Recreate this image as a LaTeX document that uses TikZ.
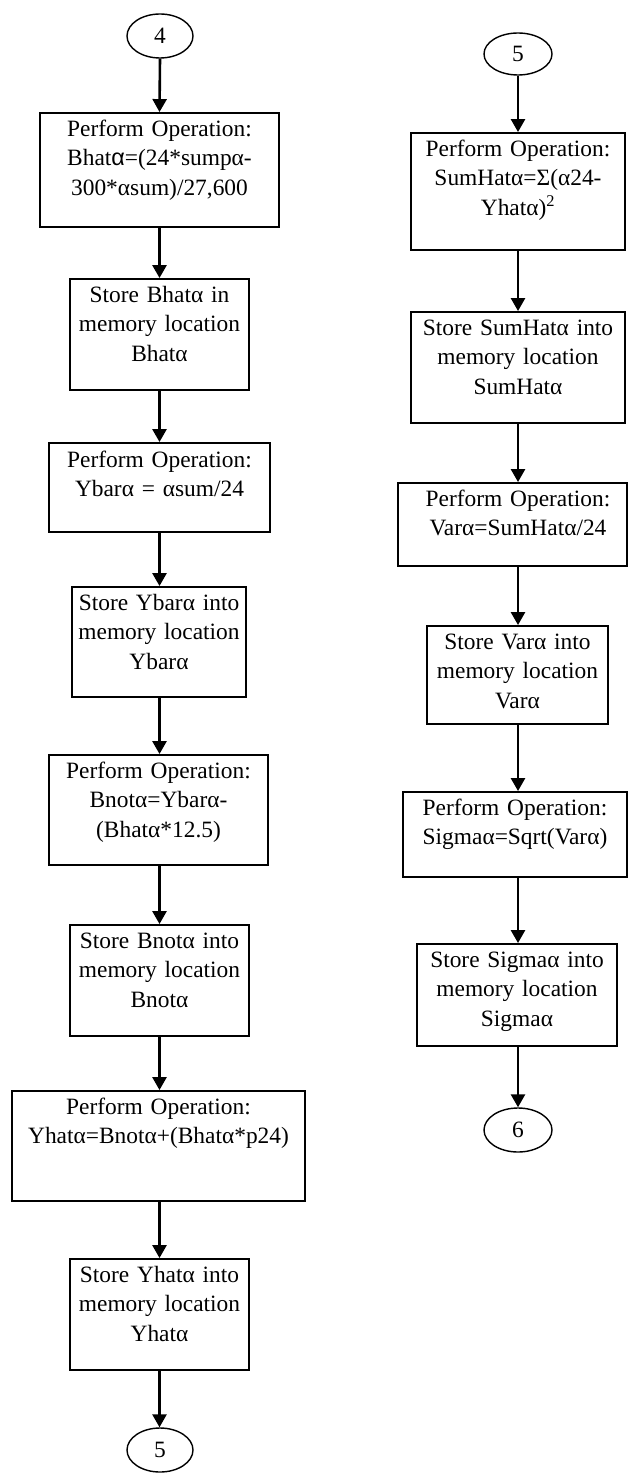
\documentclass[tikz,border=0pt]{standalone}
\usepackage{fontspec}
\setmainfont{Liberation Serif}
\newfontfamily\sansalpha{Liberation Sans}
\usetikzlibrary{arrows.meta,shapes.geometric}
\tikzset{
  boxshape/.style 2 args={draw, line width=1.9pt, minimum width=#1, minimum height=#2, inner sep=0pt},
  boxtext/.style={text width=#1, align=center, inner sep=0pt, anchor=base, font=\fontsize{23.4}{29.5}\selectfont},
  conn/.style={draw, ellipse, line width=1.4pt, minimum width=66pt, minimum height=44pt, inner sep=0pt, font=\fontsize{23.4}{29.5}\selectfont},
  flow/.style={line width=2.6pt, -{Triangle[length=13pt,width=14pt]}}
}
\begin{document}
\begin{tikzpicture}[x=1pt,y=-1pt]
\useasboundingbox[fill=white] (0,0) rectangle (629,1479);
% left column
\node[conn] (c4) at (160,36) {4};
\node[boxshape={239pt}{114pt}] (b1) at (159.5,170) {};
\node[boxtext=235pt] (t1) at ([yshift=-24pt]b1.north) {Perform Operation:\\ Bhat{\sansalpha α}=(24*sumpα-\\ 300*αsum)/27,600};
\node[boxshape={179pt}{111pt}] (b2) at (159.5,334.5) {};
\node[boxtext=175pt] (t2) at ([yshift=-24pt]b2.north) {Store Bhatα in\\ memory location\\ Bhatα};
\node[boxshape={221pt}{89pt}] (b3) at (159.5,487.5) {};
\node[boxtext=217pt] (t3) at ([yshift=-25pt]b3.north) {Perform Operation:\\ Ybarα = αsum/24};
\node[boxshape={174pt}{110pt}] (b4) at (159,642) {};
\node[boxtext=170pt] (t4) at ([yshift=-24pt]b4.north) {Store Ybarα into\\ memory location\\ Ybarα};
\node[boxshape={219pt}{110pt}] (b5) at (158.5,810) {};
\node[boxtext=215pt] (t5) at ([yshift=-24pt]b5.north) {Perform Operation:\\ Bnotα=Ybarα-\\ (Bhatα*12.5)};
\node[boxshape={179pt}{111pt}] (b6) at (159.5,980.5) {};
\node[boxtext=175pt] (t6) at ([yshift=-24pt]b6.north) {Store Bnotα into\\ memory location\\ Bnotα};
\node[boxshape={293pt}{110pt}] (b7) at (158.5,1146) {};
\node[boxtext=289pt] (t7) at ([yshift=-24pt]b7.north) {Perform Operation:\\ Yhatα=Bnotα+(Bhatα*p24)};
\node[boxshape={179pt}{111pt}] (b8) at (159.5,1314.5) {};
\node[boxtext=175pt] (t8) at ([yshift=-24pt]b8.north) {Store Yhatα into\\ memory location\\ Yhatα};
\node[conn] (c5a) at (160,1450) {5};
% right column
\node[conn, minimum width=68pt, minimum height=42pt] (c5b) at (518,54) {5};
\node[boxshape={214pt}{117pt}] (r1) at (518,191.5) {};
\node[boxtext=210pt] (u1) at ([yshift=-24pt]r1.north) {Perform Operation:\\ SumHatα=Σ(α24-\\ Yhatα)\textsuperscript{2}};
\node[boxshape={214pt}{111pt}] (r2) at (518,367.5) {};
\node[boxtext=210pt] (u2) at ([yshift=-24pt]r2.north) {Store SumHatα into\\ memory location\\ SumHatα};
\node[boxshape={229pt}{83pt}] (r3) at (512.5,524.5) {};
\node[boxtext=225pt] (u3) at ([yshift=-24pt]r3.north -| 518,0) {Perform Operation:\\ Varα=SumHatα/24};
\node[boxshape={181pt}{98pt}] (r4) at (517.5,675) {};
\node[boxtext=177pt] (u4) at ([yshift=-24pt]r4.north) {Store Varα into\\ memory location\\ Varα};
\node[boxshape={224pt}{85pt}] (r5) at (515,834.5) {};
\node[boxtext=220pt] (u5) at ([yshift=-24pt]r5.north) {Perform Operation:\\ Sigmaα=Sqrt(Varα)};
\node[boxshape={200pt}{102pt}] (r6) at (517,995) {};
\node[boxtext=196pt] (u6) at ([yshift=-24pt]r6.north) {Store Sigmaα into\\ memory location\\ Sigmaα};
\node[conn, minimum width=68pt, minimum height=44pt] (c6) at (518,1130) {6};
% connectors left
\draw[flow] (c4.south) -- (b1.north);
\draw[flow] (b1.south) -- (b1.south |- b2.north);
\draw[flow] (b2.south) -- (b2.south |- b3.north);
\draw[flow] (b3.south) -- (b3.south |- b4.north);
\draw[flow] (b4.south -| b3.south) -- (b3.south |- b5.north);
\draw[flow] (b5.south -| b3.south) -- (b3.south |- b6.north);
\draw[flow] (b6.south -| b3.south) -- (b3.south |- b7.north);
\draw[flow] (b7.south -| b3.south) -- (b3.south |- b8.north);
\draw[flow] (b8.south -| b3.south) -- (b3.south |- c5a.north);
% connectors right
\draw[flow] (c5b.south) -- (r1.north);
\draw[flow] (r1.south) -- (r2.north);
\draw[flow] (r2.south) -- (r2.south |- r3.north);
\draw[flow] (r3.south -| r2.south) -- (r2.south |- r4.north);
\draw[flow] (r4.south -| r2.south) -- (r2.south |- r5.north);
\draw[flow] (r5.south -| r2.south) -- (r2.south |- r6.north);
\draw[flow] (r6.south -| r2.south) -- (r2.south |- c6.north);
\end{tikzpicture}
\end{document}
